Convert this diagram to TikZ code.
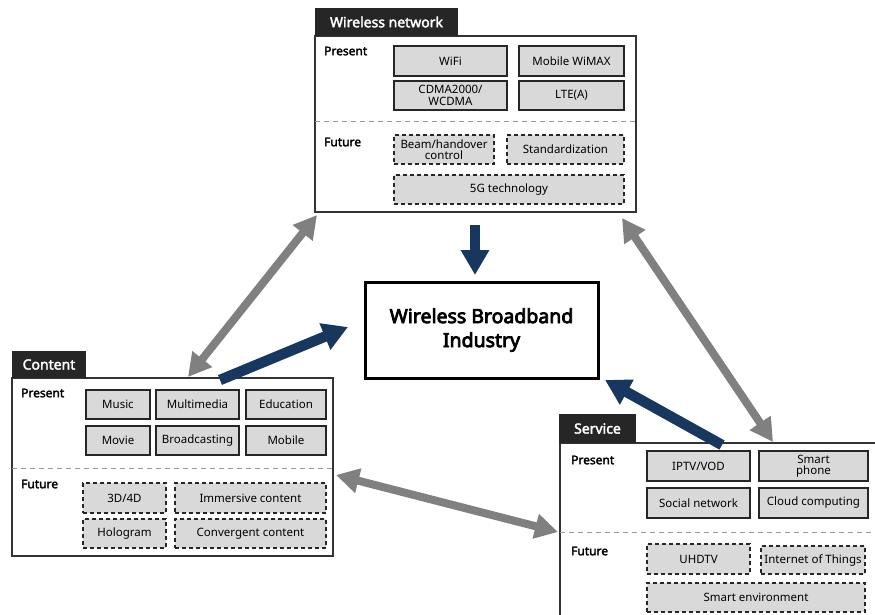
\documentclass[tikz,border=0pt]{standalone}
\usepackage{fontspec}
\setmainfont{Noto Sans}[AutoFakeBold=2.5]
\usetikzlibrary{arrows.meta}
\definecolor{navy}{HTML}{17375E}
\definecolor{arrgray}{HTML}{808080}
\definecolor{itemfill}{HTML}{D9D9D9}
\definecolor{tabfill}{HTML}{262626}
\tikzset{
  panel/.style={draw=black!80, line width=1.2pt, fill=white, inner sep=0pt},
  tab/.style={fill=tabfill, text=white, inner sep=0pt, font=\bfseries\fontsize{14}{16}\selectfont},
  lbl/.style={anchor=west, inner sep=0pt, font=\bfseries\fontsize{12}{14}\selectfont},
  item/.style={draw=black!85, fill=itemfill, line width=1.3pt, inner sep=1pt, align=center,
    font=\fontsize{11.5}{12}\selectfont},
  fitem/.style={item, dashed, dash pattern=on 4pt off 3pt},
  divider/.style={draw=black!40, line width=1pt, dash pattern=on 5pt off 4pt},
  hubbox/.style={draw=black, line width=3pt, fill=white, align=center,
    font=\addfontfeatures{FakeBold=4}\fontsize{19.5}{24}\selectfont},
  bluearrow/.style={draw=navy, line width=10.5pt, -{Triangle[width=27pt,length=25pt]}},
  grayarrow/.style={draw=arrgray, line width=8pt, {Triangle[width=24pt,length=23pt]}-{Triangle[width=24pt,length=23pt]}}
}
\begin{document}
\begin{tikzpicture}[x=1pt,y=-1pt]
\useasboundingbox (0,0) rectangle (875,615);

% ---------- Wireless network panel ----------
\node[panel, minimum width=321, minimum height=176] (wn) at (475.5,124) {};
\node[tab, minimum width=143, minimum height=28] (wntab) at (386.5,22) {Wireless network};
\node[lbl] (wnp) at (324,51) {Present};
\node[item, minimum width=113, minimum height=30] (wifi) at (450.5,61) {WiFi};
\node[item, minimum width=105, minimum height=30] (wimax) at (571.5,61) {Mobile WiMAX};
\node[item, minimum width=113, minimum height=29, font=\fontsize{11.5}{11.5}\selectfont] (cdma) at (450.5,95.5) {CDMA2000/\\WCDMA};
\node[item, minimum width=105, minimum height=29] (lte) at (571.5,95.5) {LTE(A)};
\coordinate (wnd1) at (315,122);
\coordinate (wnd2) at (636,122);
\draw[divider] (wnd1) -- (wnd2);
\node[lbl] (wnf) at (324,142) {Future};
\node[fitem, minimum width=100, minimum height=29, font=\fontsize{11.5}{11.5}\selectfont] (beam) at (444,149.5) {Beam/handover\\control};
\node[fitem, minimum width=117, minimum height=29] (std) at (565.5,149.5) {Standardization};
\node[fitem, minimum width=230, minimum height=29] (fiveg) at (509,189.5) {5G technology};

% ---------- Content panel ----------
\node[panel, minimum width=321, minimum height=178] (ct) at (172.5,467) {};
\node[tab, minimum width=74, minimum height=27] (cttab) at (49,364.5) {Content};
\node[lbl] (ctp) at (21,393) {Present};
\node[item, minimum width=64, minimum height=29] (music) at (118,404.5) {Music};
\node[item, minimum width=83, minimum height=29] (multi) at (197.5,404.5) {Multimedia};
\node[item, minimum width=80, minimum height=29] (edu) at (286,404.5) {Education};
\node[item, minimum width=64, minimum height=29] (movie) at (118,440.5) {Movie};
\node[item, minimum width=83, minimum height=29] (broad) at (197.5,440.5) {Broadcasting};
\node[item, minimum width=80, minimum height=29] (mobile) at (286,440.5) {Mobile};
\coordinate (ctd1) at (12,468);
\coordinate (ctd2) at (333,468);
\draw[divider] (ctd1) -- (ctd2);
\node[lbl] (ctf) at (21,484) {Future};
\node[fitem, minimum width=83, minimum height=30] (threed) at (124.5,498) {3D/4D};
\node[fitem, minimum width=151, minimum height=30] (immer) at (250.5,498) {Immersive content};
\node[fitem, minimum width=83, minimum height=29] (holo) at (124.5,533.5) {Hologram};
\node[fitem, minimum width=151, minimum height=29] (conv) at (250.5,533.5) {Convergent content};

% ---------- Service panel ----------
\node[panel, minimum width=330, minimum height=190] (sv) at (725,538) {};
\node[tab, minimum width=77, minimum height=29] (svtab) at (597.5,428.5) {Service};
\node[lbl] (svp) at (571,460) {Present};
\node[item, minimum width=103, minimum height=30] (iptv) at (698.5,466) {IPTV/VOD};
\node[item, minimum width=109, minimum height=30, font=\fontsize{11.5}{11.5}\selectfont] (smart) at (813.5,466) {Smart\\phone};
\node[item, minimum width=103, minimum height=30] (social) at (698.5,503) {Social network};
\node[item, minimum width=109, minimum height=30] (cloud) at (813.5,503) {Cloud computing};
\coordinate (svd1) at (560,532);
\coordinate (svd2) at (875,532);
\draw[divider] (svd1) -- (svd2);
\node[lbl] (svf) at (571,551) {Future};
\node[fitem, minimum width=103, minimum height=30] (uhd) at (698.5,559) {UHDTV};
\node[fitem, minimum width=104, minimum height=28] (iot) at (813,560) {Internet of Things};
\node[fitem, minimum width=218, minimum height=29] (senv) at (756,597.5) {Smart environment};

% ---------- Hub ----------
\node[hubbox, minimum width=233, minimum height=96] (hub) at (481.5,330) {Wireless Broadband\\Industry};

% ---------- Arrow end points ----------
\coordinate (b1s) at (475,225);
\coordinate (b1e) at (475,275);
\coordinate (b2s) at (220,380);
\coordinate (b2e) at (348,327);
\coordinate (b3s) at (722,445);
\coordinate (b3e) at (605,380);
\coordinate (g1a) at (317,215);
\coordinate (g1b) at (188,377);
\coordinate (g2a) at (622,218);
\coordinate (g2b) at (773,442);
\coordinate (g3a) at (336,475);
\coordinate (g3b) at (558,532);

\draw[grayarrow] (g1a) -- (g1b);
\draw[grayarrow] (g2a) -- (g2b);
\draw[grayarrow] (g3a) -- (g3b);
\draw[bluearrow] (b1s) -- (b1e);
\draw[bluearrow] (b2s) -- (b2e);
\draw[bluearrow] (b3s) -- (b3e);
\end{tikzpicture}
\end{document}
